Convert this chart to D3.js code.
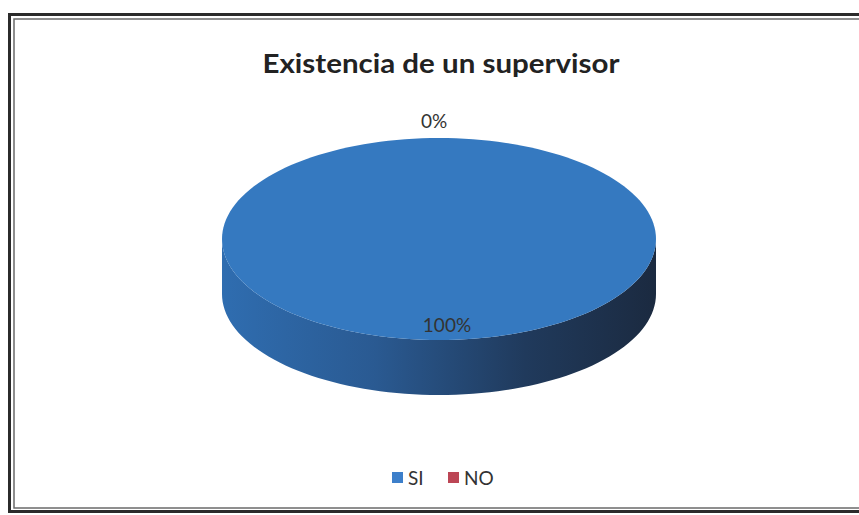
<!DOCTYPE html>
<html><head><meta charset="utf-8">
<script src="https://cdn.jsdelivr.net/npm/d3@7/dist/d3.min.js"></script>
<style>html,body{margin:0;padding:0;background:#fff}svg{display:block}</style>
</head><body>
<svg id="c" width="859" height="515"></svg>
<script>
const categories = ["SI", "NO"];
const values = [100, 0];
const colors = ["#3579c0", "#b8414f"];
const legendColors = ["#3d7fca", "#bc4655"];
const labels = ["100%", "0%"];
const title = "Existencia de un supervisor";

const svg = d3.select("#c");

// frame
svg.append("rect").attr("x", 9.5).attr("y", 14.5).attr("width", 900).attr("height", 497)
  .attr("fill", "#fff").attr("stroke", "#2b2b2b").attr("stroke-width", 3);
svg.append("rect").attr("x", 14).attr("y", 19).attr("width", 900).attr("height", 489)
  .attr("fill", "none").attr("stroke", "#6a6a6a").attr("stroke-width", 1.5);

svg.append("text").attr("x", 441).attr("y", 73).attr("text-anchor", "middle")
  .attr("font-family", "Lato, 'Open Sans', sans-serif").attr("font-weight", "bold")
  .attr("font-size", 26).attr("fill", "#222")
  .attr("textLength", 357).attr("lengthAdjust", "spacingAndGlyphs").text(title);

const cx = 439, cy = 239, rx = 217, ry = 101, depth = 55;
const pie = d3.pie().sort(null).value(d => d)(values);
const px = a => cx + rx * Math.sin(a);
const py = a => cy - ry * Math.cos(a);

const defs = svg.append("defs");
const g = defs.append("linearGradient").attr("id", "side").attr("x1", 0).attr("x2", 1).attr("y1", 0).attr("y2", 0);
g.append("stop").attr("offset", 0).attr("stop-color", "#2f6db0");
g.append("stop").attr("offset", 0.35).attr("stop-color", "#2a5a92");
g.append("stop").attr("offset", 0.7).attr("stop-color", "#203a5c");
g.append("stop").attr("offset", 1).attr("stop-color", "#1b2a40");

function sidePath(s, e) {
  const a0 = Math.max(s, Math.PI / 2), a1 = Math.min(e, 3 * Math.PI / 2);
  if (a1 <= a0) return null;
  const n = 80; let pts = [];
  for (let i = 0; i <= n; i++) { const a = a0 + (a1 - a0) * i / n; pts.push([px(a), py(a)]); }
  for (let i = n; i >= 0; i--) { const a = a0 + (a1 - a0) * i / n; pts.push([px(a), py(a) + depth]); }
  return "M" + pts.map(p => p.join(",")).join("L") + "Z";
}
function topPath(s, e) {
  const n = 160; let pts = [];
  if (e - s < 2 * Math.PI - 1e-6) pts.push([cx, cy]);
  for (let i = 0; i <= n; i++) { const a = s + (e - s) * i / n; pts.push([px(a), py(a)]); }
  return "M" + pts.map(p => p.join(",")).join("L") + "Z";
}
pie.forEach((d, i) => {
  if (d.endAngle - d.startAngle <= 0) return;
  const sp = sidePath(d.startAngle, d.endAngle);
  if (sp) svg.append("path").attr("d", sp).attr("fill", i === 0 ? "url(#side)" : "#7a2530");
});
pie.forEach((d, i) => {
  if (d.endAngle - d.startAngle <= 0) return;
  svg.append("path").attr("d", topPath(d.startAngle, d.endAngle)).attr("fill", colors[i]);
});

// labels
pie.forEach((d, i) => {
  const mid = (d.startAngle + d.endAngle) / 2;
  const t = svg.append("text").attr("text-anchor", "middle")
    .attr("font-family", "Lato, 'Open Sans', sans-serif").attr("font-size", 19).attr("fill", "#333")
    .text(labels[i]);
  if (d.endAngle - d.startAngle > 0) {
    t.attr("x", px(mid) + 8).attr("y", py(mid) - 8);
  } else {
    t.attr("x", px(mid) - 5).attr("y", py(mid) - 10);
  }
});

// legend
const lg = svg.append("g").attr("font-family", "Lato, 'Open Sans', sans-serif").attr("font-size", 19).attr("fill", "#333");
const lx = [392, 448];
categories.forEach((c, i) => {
  lg.append("rect").attr("x", lx[i]).attr("y", 472).attr("width", 11).attr("height", 11).attr("fill", legendColors[i]);
  lg.append("text").attr("x", lx[i] + 16).attr("y", 485).text(c);
});
</script>
</body></html>
